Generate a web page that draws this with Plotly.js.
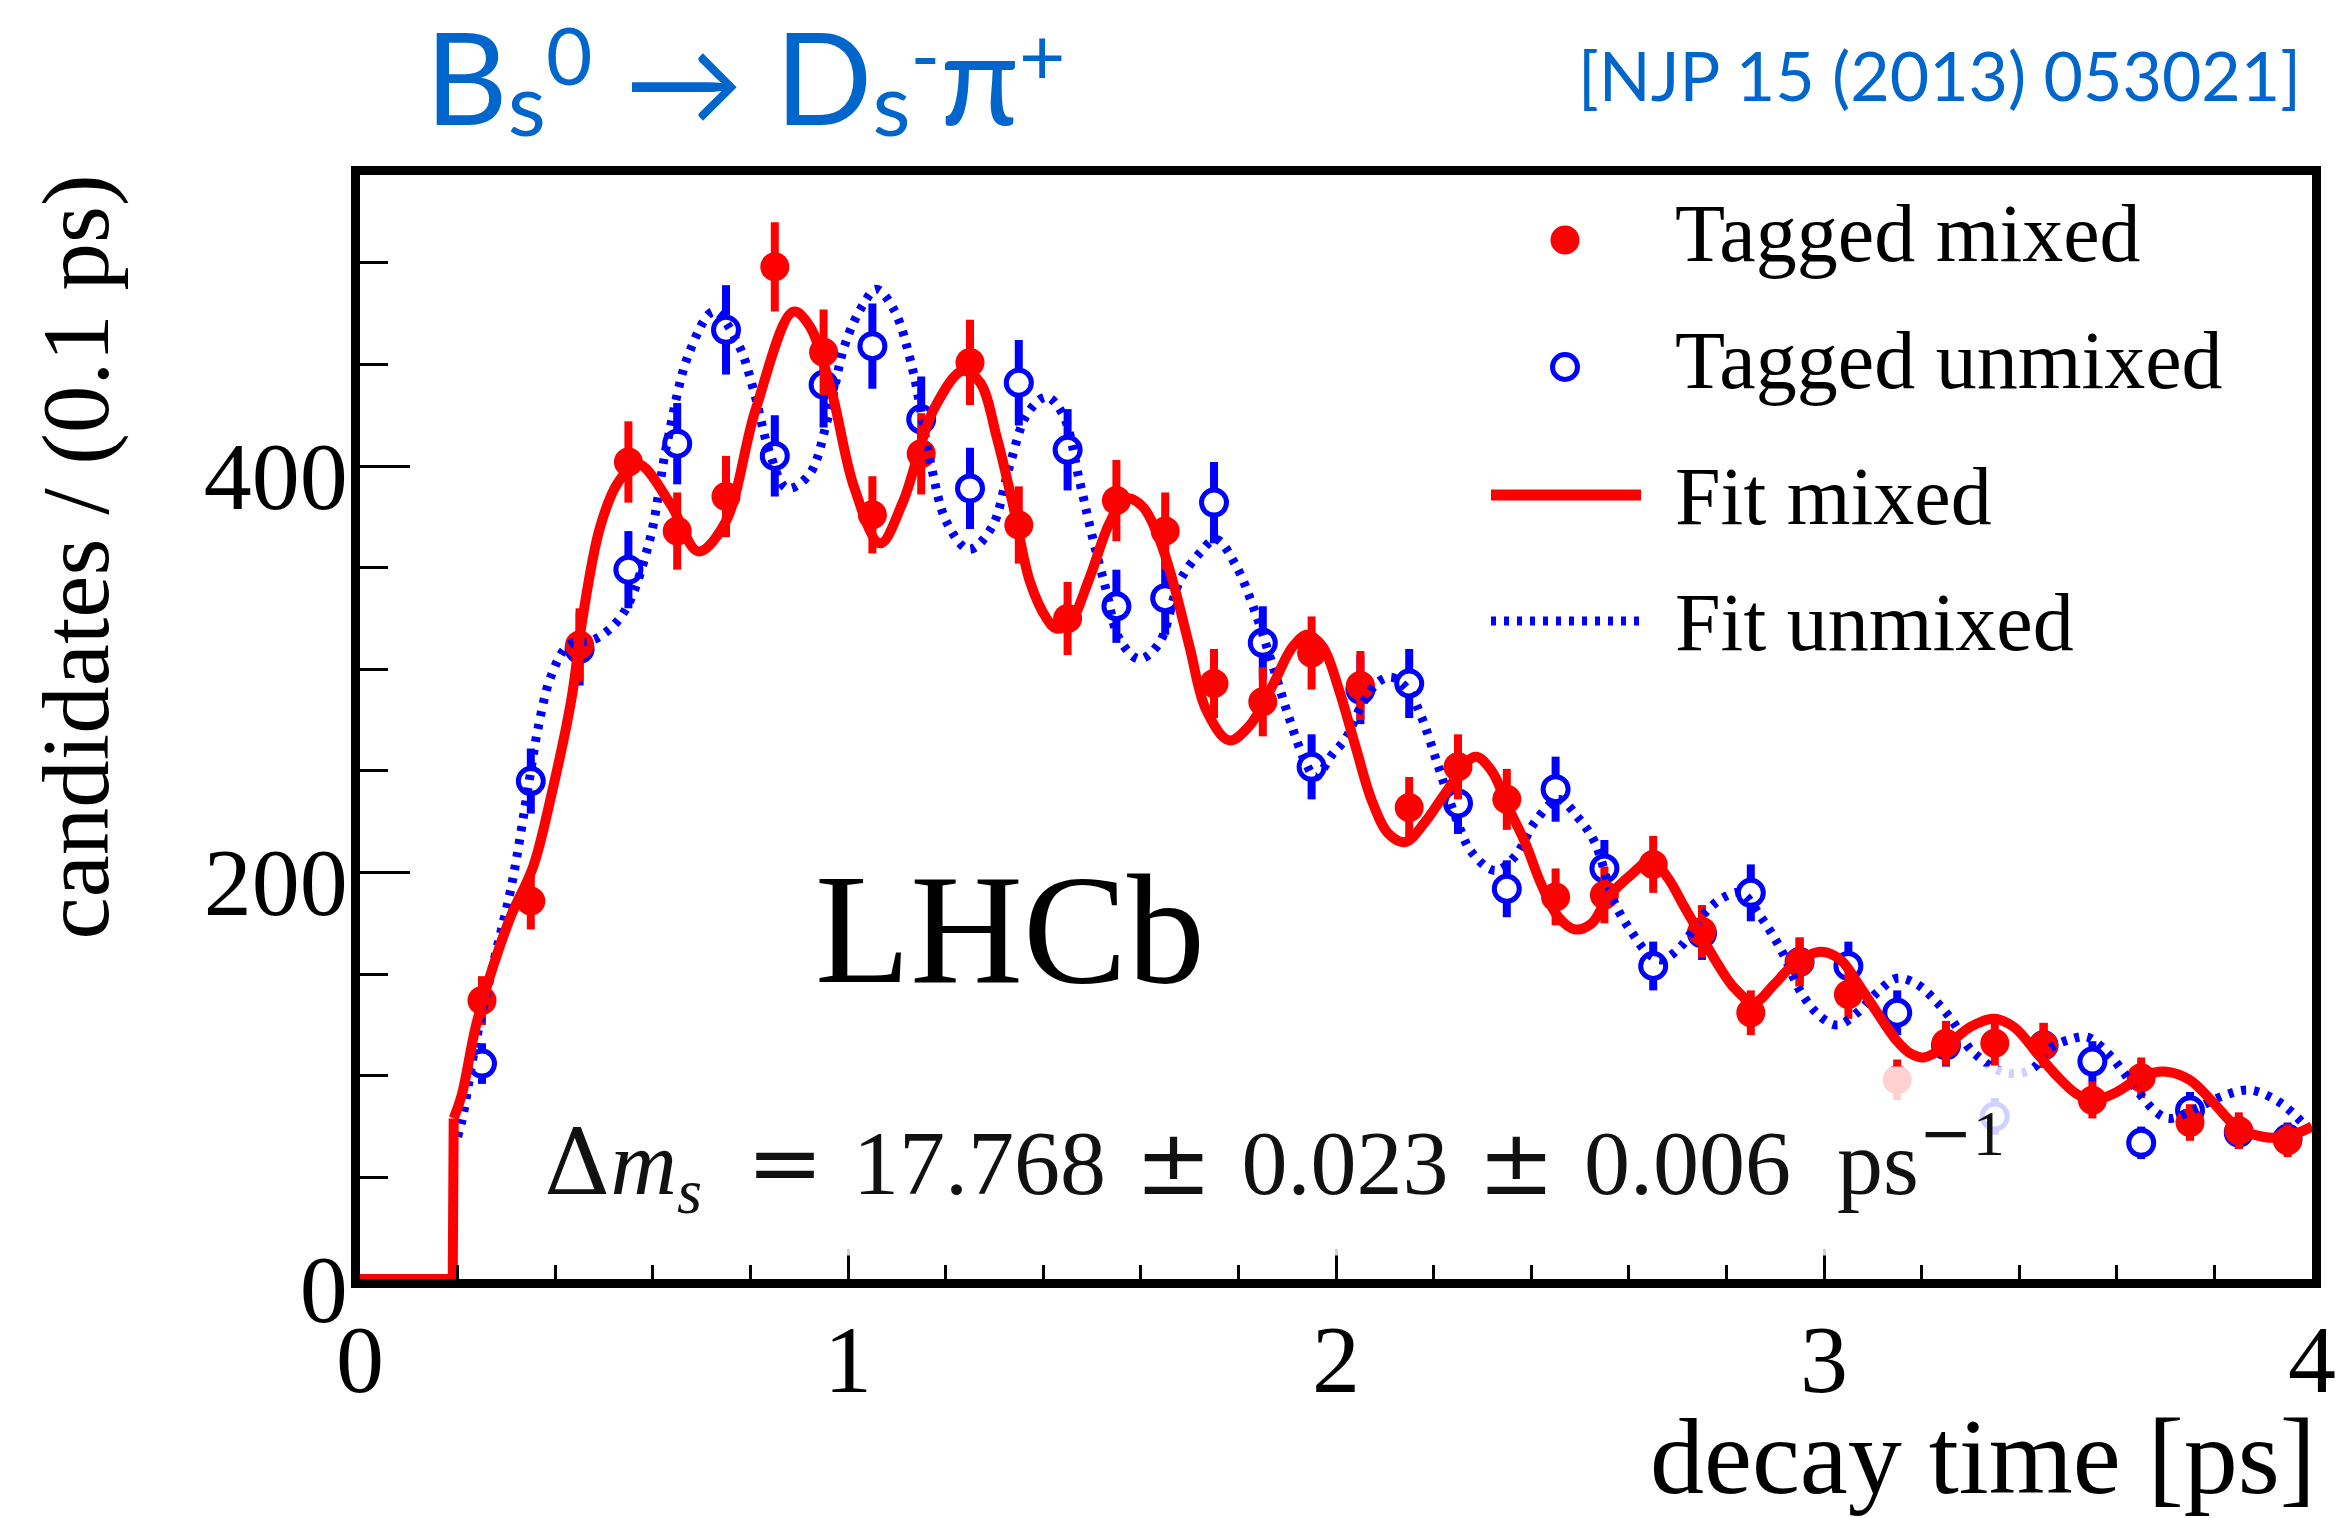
<!DOCTYPE html>
<html>
<head>
<meta charset="utf-8">
<script src="https://cdn.plot.ly/plotly-3.0.1.min.js"></script>
<style>html,body{margin:0;padding:0;background:#fff}#plot{width:2337px;height:1518px}</style>
</head>
<body>
<div id="plot"></div>
<script>
// ---- data ----
const binCentres = [0.25,0.35,0.45,0.55,0.65,0.75,0.85,0.95,1.05,1.15,1.25,1.35,1.45,1.55,1.65,1.75,1.85,1.95,2.05,2.15,2.25,2.35,2.45,2.55,2.65,2.75,2.85,2.95,3.05,3.15,3.25,3.35,3.45,3.55,3.65,3.75,3.85,3.95];
const mixedCounts   = [137,186,312,402,368,385,498,456,376,406,451,371,325,383,368,293,284,308,292,232,252,236,188,189,204,171,131,156,140,98,116,116,115,88,99,77,73,68];
const mixedErrors   = [12,14,18,20,19,20,22,21,19,20,21,19,18,20,19,17,17,18,17,15,16,15,14,14,14,13,11,12,12,10,11,11,11,9,10,9,9,8];
const unmixedCounts = [106,245,310,349,411,467,405,440,459,423,389,441,408,331,335,382,313,252,290,293,234,192,241,202,154,170,190,156,154,131,115,80,115,107,67,83,72,69];
const unmixedErrors = [10,16,18,19,20,22,20,21,21,21,20,21,20,18,18,20,18,16,17,17,15,14,16,14,12,13,14,12,12,11,11,9,11,10,8,9,8,8];

const fitMixedT = [0,0.19,0.192,0.209,0.237,0.273,0.310,0.355,0.392,0.433,0.456,0.492,0.529,0.570,0.637,0.693,0.748,0.811,0.888,0.921,0.966,1.012,1.066,1.112,1.176,1.236,1.271,1.305,1.339,1.373,1.407,1.427,1.455,1.495,1.536,1.570,1.604,1.638,1.666,1.700,1.734,1.781,1.822,1.870,1.911,1.941,1.973,2.006,2.040,2.074,2.108,2.142,2.183,2.224,2.285,2.319,2.353,2.387,2.421,2.456,2.490,2.524,2.558,2.605,2.646,2.681,2.714,2.748,2.782,2.817,2.857,2.898,2.939,2.993,3.034,3.068,3.109,3.150,3.177,3.205,3.252,3.300,3.348,3.389,3.437,3.477,3.518,3.552,3.600,3.654,3.702,3.749,3.797,3.845,3.899,3.947,4.000];
const fitMixedY = [0,0,79,91,124,154,179,203,238,285,325,370,392,401,381,358,372,428,476,469,437,390,362,382,428,447,441,414,380,343,325,320,323,345,372,384,380,364,343,311,280,265,272,292,311,317,311,290,262,235,219,215,225,239,257,250,232,215,194,178,172,175,188,199,206,197,183,169,155,143,136,145,155,161,157,146,131,117,111,109,115,124,128,124,111,100,91,88,92,100,102,98,87,75,70,70,75];

const fitUnmixedT = [0.200,0.209,0.237,0.273,0.310,0.346,0.364,0.392,0.428,0.483,0.538,0.592,0.629,0.675,0.725,0.775,0.807,0.839,0.875,0.921,0.957,0.994,1.030,1.058,1.094,1.131,1.167,1.203,1.248,1.295,1.331,1.368,1.407,1.441,1.475,1.502,1.529,1.556,1.597,1.638,1.679,1.720,1.754,1.795,1.836,1.870,1.904,1.938,1.958,1.992,2.020,2.054,2.088,2.115,2.150,2.176,2.210,2.244,2.278,2.326,2.367,2.408,2.456,2.496,2.530,2.571,2.605,2.640,2.667,2.708,2.755,2.796,2.830,2.871,2.912,2.953,2.993,3.028,3.068,3.109,3.150,3.191,3.232,3.266,3.293,3.313,3.354,3.395,3.430,3.460,3.506,3.540,3.586,3.613,3.641,3.681,3.709,3.763,3.817,3.872,3.933,3.980];
const fitUnmixedY = [70,78,116,155,193,244,270,297,312,315,327,362,411,456,476,460,437,407,389,396,422,460,479,487,477,449,404,372,359,370,400,426,434,425,392,364,339,315,305,313,343,357,364,351,327,302,276,254,247,258,266,283,294,296,289,276,252,228,210,201,208,225,236,227,215,185,171,160,157,164,180,188,190,178,162,141,129,125,131,141,148,145,136,126,115,110,103,101,104,113,118,119,110,102,93,82,79,84,90,93,87,77];

const xTickLabels = ['0','1','2','3','4'];
const yTickLabels = ['0','200','400'];

// ---- styling ----
const RED = '#ff0000', BLUE = '#0000ff', TITLEBLUE = '#0066cc';
const SERIF = 'Liberation Serif, Times New Roman, serif';
const SANS = 'Lato, Noto Sans, sans-serif';

const traces = [
  { // tagged unmixed data
    x: binCentres, y: unmixedCounts, type: 'scatter', mode: 'markers', name: 'Tagged unmixed',
    marker: {symbol: 'circle', size: 25, color: '#ffffff', line: {color: BLUE, width: 5}},
    error_y: {type: 'data', array: unmixedErrors, visible: true, thickness: 8, width: 0, color: BLUE}
  },
  { // tagged mixed data
    x: binCentres, y: mixedCounts, type: 'scatter', mode: 'markers', name: 'Tagged mixed',
    marker: {symbol: 'circle', size: 29, color: RED, line: {width: 0}},
    error_y: {type: 'data', array: mixedErrors, visible: true, thickness: 8, width: 0, color: RED}
  },
  { // fit unmixed
    x: fitUnmixedT, y: fitUnmixedY, type: 'scatter', mode: 'lines', name: 'Fit unmixed',
    line: {color: BLUE, width: 9, dash: '5px,8px', shape: 'spline', smoothing: 1}
  },
  { // fit mixed: flat part before the acceptance turn-on
    x: fitMixedT.slice(0, 3), y: fitMixedY.slice(0, 3), type: 'scatter', mode: 'lines', name: 'Fit mixed',
    showlegend: false, line: {color: RED, width: 10, shape: 'linear'}
  },
  { // fit mixed
    x: fitMixedT.slice(2), y: fitMixedY.slice(2), type: 'scatter', mode: 'lines', name: 'Fit mixed',
    line: {color: RED, width: 10, shape: 'spline', smoothing: 1}
  }
];

const L = 360, R = 2312, T = 175, B = 1279;
const W = R - L, H = B - T;
const px = v => (v - L) / W;      // pixel -> paper x
const py = v => (B - v) / H;      // pixel -> paper y

const NB = '\u00a0', SIXTH = '\u2006', THIN = '\u2009';
const sym = s => '<span style="font-family:DejaVu Serif;font-size:92px">' + NB + s + NB + '</span>';
const dmText = '<span style="font-family:DejaVu Serif;font-size:92px">Δ</span><i>m</i><sub><i>s</i></sub>' + SIXTH +
  sym('=') + '17.768' + sym('±') + '0.023' + sym('±') + '0.006' + NB + NB +
  'ps<sup><span style="font-family:DejaVu Serif">−</span>1</sup>';

const legendFont = {family: SERIF, size: 82, color: '#000'};
const annotations = [
  {text: 'candidates / (0.1 ps)', textangle: -90, xref: 'paper', yref: 'paper',
   x: px(75), y: py(173), xanchor: 'center', yanchor: 'top', showarrow: false,
   font: {family: SERIF, size: 95, color: '#000'}},
  {text: 'decay time [ps]', xref: 'paper', yref: 'paper', x: px(2318), y: py(1456),
   xanchor: 'right', yanchor: 'middle', showarrow: false, font: {family: SERIF, size: 108, color: '#000'}},
  {text: 'LHCb', xref: 'paper', yref: 'paper', x: px(1010), y: py(929), xanchor: 'center', yanchor: 'middle',
   showarrow: false, font: {family: SERIF, size: 156, color: '#000'}},
  {text: dmText,
   xref: 'paper', yref: 'paper', x: px(515), y: py(1161), xanchor: 'left', yanchor: 'middle', showarrow: false,
   bgcolor: 'rgba(255,255,255,0.82)', borderpad: 28, font: {family: SERIF, size: 92, color: '#111'}},
  {text: '[NJP 15 (2013) 053021]', xref: 'paper', yref: 'paper', x: px(2303), y: py(74), xanchor: 'right', yanchor: 'middle',
   showarrow: false, font: {family: SANS, size: 68, color: TITLEBLUE}},
  {text: 'Tagged mixed', xref: 'paper', yref: 'paper', x: px(1673), y: py(233), xanchor: 'left', yanchor: 'middle', showarrow: false, font: legendFont},
  {text: 'Tagged unmixed', xref: 'paper', yref: 'paper', x: px(1673), y: py(360), xanchor: 'left', yanchor: 'middle', showarrow: false, font: legendFont},
  {text: 'Fit mixed', xref: 'paper', yref: 'paper', x: px(1673), y: py(496), xanchor: 'left', yanchor: 'middle', showarrow: false, font: legendFont},
  {text: 'Fit unmixed', xref: 'paper', yref: 'paper', x: px(1673), y: py(622), xanchor: 'left', yanchor: 'middle', showarrow: false, font: legendFont}
];

const shapes = [
  {type: 'circle', xref: 'paper', yref: 'paper', xsizemode: 'pixel', ysizemode: 'pixel',
   xanchor: px(1565), yanchor: py(240), x0: -14.5, x1: 14.5, y0: -14.5, y1: 14.5, fillcolor: RED, line: {width: 0}},
  {type: 'circle', xref: 'paper', yref: 'paper', xsizemode: 'pixel', ysizemode: 'pixel',
   xanchor: px(1565), yanchor: py(367), x0: -12.5, x1: 12.5, y0: -12.5, y1: 12.5, fillcolor: '#ffffff', line: {color: BLUE, width: 5}},
  {type: 'line', xref: 'paper', yref: 'paper', x0: px(1491), x1: px(1641), y0: py(495), y1: py(495), line: {color: RED, width: 11}},
  {type: 'line', xref: 'paper', yref: 'paper', x0: px(1491), x1: px(1641), y0: py(621), y1: py(621), line: {color: BLUE, width: 9, dash: '5px,8px'}}
];

const subS = t => '<span style="font-size:88px;baseline-shift:-11px">' + t + '</span>';
const supS = t => '<span style="font-size:80px;baseline-shift:40px">' + t + '</span>';
const arrow = '<span style="font-size:118px">→</span>';
const titleText = 'B' + subS('s') + supS('0') + ' ' + arrow + THIN + THIN + 'D' + subS('s') + supS('-') + 'π' + supS('+');

const layout = {
  width: 2337, height: 1518,
  margin: {l: L, r: 2337 - R, t: T, b: 1518 - B, pad: 0},
  paper_bgcolor: '#ffffff', plot_bgcolor: '#ffffff',
  showlegend: false,
  title: {text: titleText,
          xref: 'container', yref: 'container', x: 425 / 2337, xanchor: 'left', y: 1 - 80 / 1518, yanchor: 'middle',
          font: {family: SANS, size: 128, color: TITLEBLUE}},
  xaxis: {range: [0, 4], showgrid: false, zeroline: false, showline: true, linewidth: 9, linecolor: '#000', mirror: true,
          tickmode: 'array', tickvals: xTickLabels.map(Number), ticktext: xTickLabels,
          ticks: 'inside', ticklen: 30, tickwidth: 3, tickcolor: '#000',
          minor: {dtick: 0.2, ticks: 'inside', ticklen: 14, tickwidth: 3, tickcolor: '#000', showgrid: false},
          tickfont: {family: SERIF, size: 96, color: '#000'}, ticklabelstandoff: -11},
  yaxis: {range: [0, 543.2], showgrid: false, zeroline: false, showline: true, linewidth: 9, linecolor: '#000', mirror: true,
          tickmode: 'array', tickvals: yTickLabels.map(Number), ticktext: yTickLabels,
          ticks: 'inside', ticklen: 50, tickwidth: 3, tickcolor: '#000',
          minor: {dtick: 50, ticks: 'inside', ticklen: 28, tickwidth: 3, tickcolor: '#000', showgrid: false},
          tickfont: {family: SERIF, size: 96, color: '#000'}, ticklabelstandoff: -16, ticklabelshift: 9},
  annotations: annotations,
  shapes: shapes
};

Plotly.newPlot('plot', traces, layout, {displayModeBar: false, staticPlot: true});
</script>
</body>
</html>
